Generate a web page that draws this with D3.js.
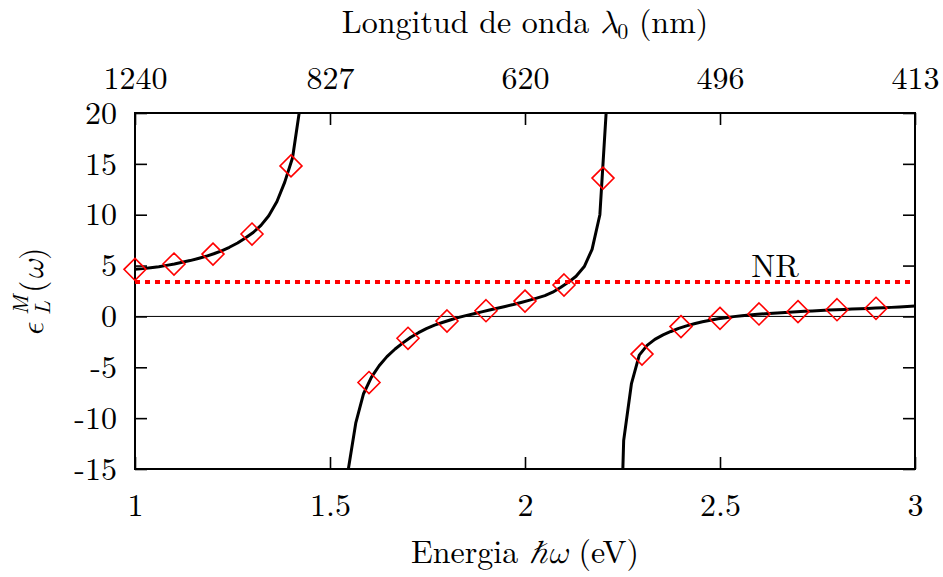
<!DOCTYPE html>
<html><head><meta charset="utf-8">
<script src="https://cdn.jsdelivr.net/npm/d3@7"></script>
</head><body style="margin:0;background:#fff">
<svg id="c" width="943" height="577"></svg>
<script>
// ---- data ----
const xTicks = [1, 1.5, 2, 2.5, 3];
const yTicks = [-15, -10, -5, 0, 5, 10, 15, 20];
const topTickLabels = ["1240", "827", "620", "496", "413"];

// sampled curve (three branches between the poles)
const branch1 = [[1.000,4.63],[1.020,4.70],[1.040,4.79],[1.061,4.89],[1.081,5.02],[1.101,5.16],[1.121,5.32],[1.141,5.49],[1.162,5.70],[1.182,5.91],[1.202,6.16],[1.222,6.45],[1.242,6.80],[1.263,7.22],[1.283,7.72],[1.303,8.25],[1.323,8.95],[1.343,9.9],[1.364,11.3],[1.384,13.2],[1.404,15.6],[1.424,20.8]];
const branch2 = [[1.545,-15.5],[1.566,-10.5],[1.586,-7.6],[1.606,-6.0],[1.626,-4.85],[1.646,-3.95],[1.667,-3.2],[1.687,-2.6],[1.707,-2.05],[1.727,-1.6],[1.747,-1.2],[1.768,-0.85],[1.788,-0.6],[1.808,-0.35],[1.828,-0.12],[1.848,0.08],[1.869,0.27],[1.889,0.45],[1.909,0.63],[1.929,0.8],[1.949,0.98],[1.970,1.17],[1.990,1.37],[2.010,1.58],[2.030,1.8],[2.051,2.05],[2.071,2.38],[2.091,2.85],[2.111,3.35],[2.131,3.95],[2.152,4.9],[2.172,6.6],[2.192,10.0],[2.212,22.5]];
const branch3 = [[2.232,-40],[2.253,-12.2],[2.273,-6.6],[2.293,-3.8],[2.313,-2.85],[2.333,-2.25],[2.354,-1.82],[2.374,-1.48],[2.394,-1.18],[2.414,-0.93],[2.434,-0.72],[2.455,-0.53],[2.475,-0.37],[2.495,-0.23],[2.515,-0.12],[2.535,-0.02],[2.556,0.06],[2.576,0.14],[2.596,0.21],[2.616,0.27],[2.636,0.32],[2.657,0.37],[2.677,0.42],[2.697,0.46],[2.717,0.50],[2.737,0.54],[2.758,0.58],[2.778,0.62],[2.798,0.65],[2.818,0.69],[2.838,0.72],[2.859,0.75],[2.879,0.78],[2.899,0.82],[2.919,0.85],[2.939,0.89],[2.960,0.93],[2.980,0.97],[3.000,1.02]];

const markerX = [1.0,1.1,1.2,1.3,1.4,1.6,1.7,1.8,1.9,2.0,2.1,2.2,2.3,2.4,2.5,2.6,2.7,2.8,2.9];
const markerY = [4.63,5.15,6.13,8.1,14.8,-6.5,-2.15,-0.45,0.56,1.51,3.09,13.6,-3.7,-1.0,-0.19,0.24,0.47,0.66,0.8];

const nrValue = 3.38;
const nrLabel = "NR";

// ---- layout ----
const L = 135, R = 915, T = 113, B = 469;
const FONT = '"Latin Modern Roman","Liberation Serif",serif';
const GREEK = '"Latin Modern Math","DejaVu Serif",serif';
const FS = 32;
const svg = d3.select("#c");
const x = d3.scaleLinear().domain([1, 3]).range([L, R]);
const y = d3.scaleLinear().domain([-15, 20]).range([B, T]);

svg.append("defs").append("clipPath").attr("id","plot")
  .append("rect").attr("x",L).attr("y",T).attr("width",R-L).attr("height",B-T);

// zero line
svg.append("line").attr("x1",L).attr("x2",R).attr("y1",y(0)).attr("y2",y(0))
  .attr("stroke","#000").attr("stroke-width",1);

// axes
function styleAxis(g){
  g.select(".domain").remove();
  g.selectAll(".tick line").attr("stroke","#000").attr("stroke-width",1.6);
  g.selectAll(".tick text").style("font-family",FONT).style("font-size",FS+"px").attr("fill","#000");
}
svg.append("g").attr("transform",`translate(${L},0)`)
  .call(d3.axisLeft(y).tickValues(yTicks).tickSize(-12).tickPadding(18).tickFormat(d=>String(d)))
  .call(styleAxis);
svg.append("g").attr("transform",`translate(${R},0)`)
  .call(d3.axisRight(y).tickValues(yTicks).tickSize(-12).tickFormat(""))
  .call(styleAxis);
svg.append("g").attr("transform",`translate(0,${B})`)
  .call(d3.axisBottom(x).tickValues(xTicks).tickSize(-12).tickPadding(24).tickFormat(d=>String(d)))
  .call(styleAxis);
svg.append("g").attr("transform",`translate(0,${T})`)
  .call(d3.axisTop(x).tickValues(xTicks).tickSize(-12).tickPadding(24).tickFormat((d,i)=>topTickLabels[i]))
  .call(styleAxis);

// frame
svg.append("rect").attr("x",L).attr("y",T).attr("width",R-L).attr("height",B-T)
  .attr("fill","none").attr("stroke","#000").attr("stroke-width",2);

// curve
const line = d3.line().x(d=>x(d[0])).y(d=>y(d[1]));
const cg = svg.append("g").attr("clip-path","url(#plot)");
[branch1, branch2, branch3].forEach(b=>{
  cg.append("path").attr("d",line(b)).attr("fill","none").attr("stroke","#000")
    .attr("stroke-width",3).attr("stroke-linejoin","round");
});

// NR line
svg.append("line").attr("x1",L).attr("x2",R).attr("y1",y(nrValue)).attr("y2",y(nrValue))
  .attr("stroke","#ff0000").attr("stroke-width",4).attr("stroke-dasharray","5,5");
svg.append("text").attr("x",775).attr("y",277).attr("text-anchor","middle")
  .style("font-family",FONT).style("font-size",FS+"px").text(nrLabel);

// markers
const s = 11;
svg.append("g").selectAll("path").data(markerX.map((d,i)=>[d,markerY[i]])).join("path")
  .attr("d",d=>{const cx=x(d[0]), cy=y(d[1]); return `M${cx},${cy-s}L${cx+s},${cy}L${cx},${cy+s}L${cx-s},${cy}Z`;})
  .attr("fill","none").attr("stroke","#ff0000").attr("stroke-width",1.6);

// top title
const tt = svg.append("text").attr("x",525).attr("y",33).attr("text-anchor","middle")
  .style("font-family",FONT).style("font-size",FS+"px");
tt.append("tspan").text("Longitud de onda ");
tt.append("tspan").style("font-family",GREEK).style("font-style","italic").text("λ");
tt.append("tspan").style("font-size","22px").attr("dy",6).text("0");
tt.append("tspan").attr("dy",-6).text(" (nm)");

// bottom title
const bt = svg.append("text").attr("x",525).attr("y",563).attr("text-anchor","middle")
  .style("font-family",FONT).style("font-size",FS+"px");
bt.append("tspan").text("Energia ");
bt.append("tspan").style("font-family",GREEK).style("font-style","italic").text("ℏω");
bt.append("tspan").text(" (eV)");

// y title
const yg = svg.append("g").attr("transform","translate(43,293) rotate(-90)");
yg.append("text").attr("x",-44).attr("y",0).style("font-family",GREEK).style("font-size",FS+"px").style("font-style","italic").text("ϵ");
yg.append("text").attr("x",-22).attr("y",-15).style("font-family",FONT).style("font-size","22px").style("font-style","italic").text("M");
yg.append("text").attr("x",-22).attr("y",7).style("font-family",FONT).style("font-size","22px").style("font-style","italic").text("L");
const yw = yg.append("text").attr("x",0).attr("y",0).style("font-family",FONT).style("font-size",FS+"px");
yw.append("tspan").text("(");
yw.append("tspan").style("font-family",GREEK).style("font-style","italic").text("ω");
yw.append("tspan").text(")");
</script>
</body></html>
